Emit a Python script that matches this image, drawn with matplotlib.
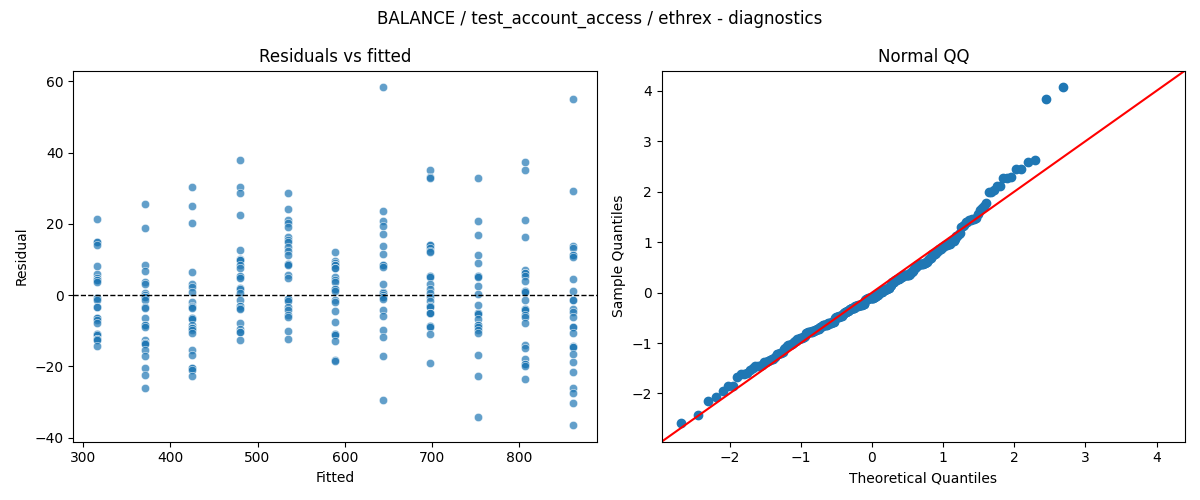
import numpy as np
import matplotlib
matplotlib.use("Agg")
import matplotlib.pyplot as plt
from statistics import NormalDist

fitted_levels = [316.0, 370.6, 425.2, 479.8, 534.4, 589.0, 643.6, 698.2, 752.8, 807.4, 862.0]

resid_groups = [
    [21.3, 15.0, 14.9, 14.1, 8.1, 5.9, 4.8, 4.3, 4.2, 3.8, -0.8, -0.9, -1.3, -3.2, -3.3,
     -6.4, -6.5, -6.9, -7.9, -10.8, -10.9, -11.1, -12.3, -12.4, -12.7, -14.2],
    [25.6, 18.8, 8.5, 6.8, 3.8, 3.2, 0.6, 0.1, -0.4, -0.5, -1.3, -3.2, -3.6, -6.5, -8.3,
     -8.4, -8.8, -12.5, -13.3, -13.4, -13.6, -15.3, -17.0, -20.5, -22.4, -26.1],
    [30.3, 24.9, 20.2, 6.4, 3.2, 2.4, 1.0, -1.8, -3.0, -3.4, -3.5, -6.4, -6.5, -6.7, -8.3,
     -9.2, -9.3, -9.9, -10.5, -15.5, -16.7, -20.4, -20.5, -20.9, -22.6],
    [37.9, 30.3, 28.6, 22.4, 12.6, 10.1, 10.0, 9.9, 8.5, 7.6, 5.2, 5.3, 4.8, 2.1, 1.7, 0.6,
     -1.3, -3.0, -3.1, -3.6, -3.9, -7.9, -9.5, -10.2, -10.3, -12.5],
    [28.6, 24.1, 21.1, 20.2, 19.0, 16.4, 15.5, 14.8, 13.6, 12.5, 11.3, 8.8, 8.7, 8.6, 5.7,
     4.8, -1.1, -1.2, -1.5, -3.2, -4.1, -5.5, -6.2, -10.0, -12.3],
    [12.1, 9.6, 8.9, 8.5, 8.4, 7.6, 7.5, 5.2, 4.3, 3.8, 1.7, 1.6, 1.3, -1.3, -1.8, -4.4,
     -7.6, -10.8, -10.9, -11.1, -12.9, -18.3, -18.4],
    [58.3, 23.6, 20.8, 19.4, 17.1, 13.8, 11.5, 8.5, 8.4, 8.0, 3.2, 1.0, 0.6, 0.1, -0.4,
     -0.5, -1.1, -4.3, -5.8, -9.7, -11.8, -17.0, -29.3],
    [35.1, 33.1, 32.8, 14.1, 14.0, 13.2, 12.5, 12.0, 5.4, 5.3, 5.2, 3.2, 1.7, 0.6, -0.6,
     -1.5, -3.0, -3.1, -3.4, -4.9, -5.0, -5.1, -8.6, -8.7, -8.8, -10.9, -19.1],
    [32.8, 20.7, 16.8, 11.2, 9.0, 5.4, 5.3, 5.0, 2.6, 0.4, -2.8, -5.0, -5.1, -5.2, -6.7,
     -8.3, -8.4, -8.8, -9.9, -10.5, -16.8, -22.6, -34.2],
    [37.3, 35.1, 21.0, 16.3, 7.1, 6.2, 6.1, 5.4, 4.1, 1.2, 1.1, 1.0, -1.3, -3.9, -4.0,
     -4.3, -5.5, -6.0, -7.9, -13.9, -14.8, -17.9, -19.3, -19.4, -20.0, -23.6],
    [55.0, 29.2, 13.9, 13.2, 11.3, 11.2, 10.8, 4.5, 1.3, -1.3, -1.4, -3.9, -4.6, -6.2,
     -8.8, -8.9, -10.6, -14.4, -14.5, -14.6, -16.5, -18.7, -21.6, -26.1, -27.5, -30.3, -36.4],
]

fitted = np.concatenate([[f] * len(g) for f, g in zip(fitted_levels, resid_groups)])
resid = np.concatenate([np.array(g) for g in resid_groups])

fig, (ax1, ax2) = plt.subplots(1, 2, figsize=(12, 5), dpi=100)
fig.suptitle("BALANCE / test_account_access / ethrex - diagnostics")

# residuals vs fitted
ax1.scatter(fitted, resid, s=36, alpha=0.7, color="C0", edgecolors="white", linewidths=0.48)
ax1.axhline(0, color="black", linestyle="--", linewidth=1)
ax1.set_title("Residuals vs fitted")
ax1.set_xlabel("Fitted")
ax1.set_ylabel("Residual")

# normal QQ (standardised residuals)
n = len(resid)
nd = NormalDist()
theo = np.array([nd.inv_cdf(i / (n + 1)) for i in range(1, n + 1)])
sample = (np.sort(resid) - resid.mean()) / resid.std()
ax2.plot(theo, sample, "o", color="C0", markersize=6)
lo = min(ax2.get_xlim()[0], ax2.get_ylim()[0])
hi = max(ax2.get_xlim()[1], ax2.get_ylim()[1])
ax2.plot([lo, hi], [lo, hi], color="r")
ax2.set_xlim(lo, hi)
ax2.set_ylim(lo, hi)
ax2.set_title("Normal QQ")
ax2.set_xlabel("Theoretical Quantiles")
ax2.set_ylabel("Sample Quantiles")

fig.tight_layout()
fig.savefig("out.png")
